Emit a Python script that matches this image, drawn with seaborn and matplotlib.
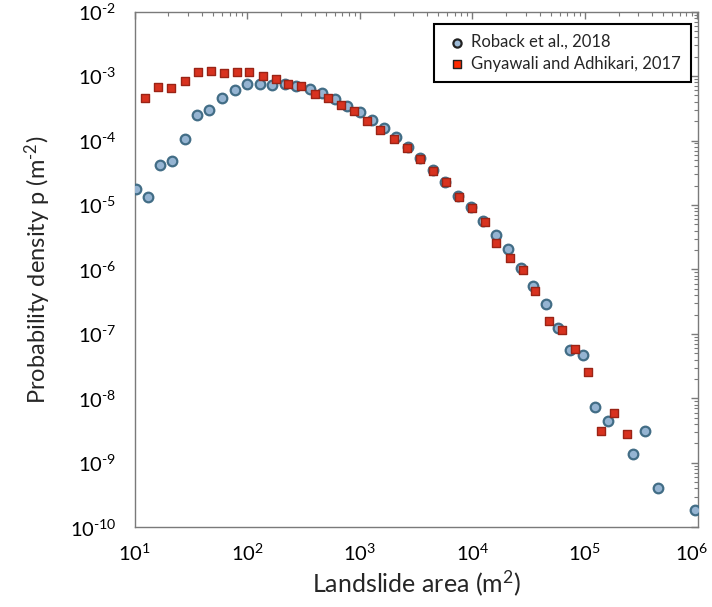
import numpy as np
import pandas as pd
import matplotlib
matplotlib.use("Agg")
import matplotlib.pyplot as plt
import matplotlib.transforms as mtransforms
import seaborn as sns
from matplotlib.ticker import LogLocator, FixedLocator, NullFormatter

# ---- data ----
roback_area = [10.2, 13.2, 16.9, 21.6, 28.2, 36.0, 46.0, 59.7, 78.3, 100, 129.6, 168,
               216, 274, 360, 463, 604, 771, 1000, 1285, 1650, 2117, 2694, 3443,
               4470, 5790, 7450, 9660, 12600, 16300, 20700, 27200, 35000, 45200,
               58000, 74500, 97200, 124200, 159600, 271000, 345000, 446000, 953000]
roback_p = [1.74e-5, 1.32e-5, 4.18e-5, 4.79e-5, 1.04e-4, 2.50e-4, 2.94e-4, 4.55e-4,
            6.10e-4, 7.65e-4, 7.52e-4, 7.20e-4, 7.65e-4, 7.07e-4, 6.35e-4, 5.51e-4,
            4.40e-4, 3.42e-4, 2.73e-4, 2.05e-4, 1.56e-4, 1.13e-4, 8.04e-5, 5.33e-5,
            3.47e-5, 2.28e-5, 1.37e-5, 9.25e-6, 5.67e-6, 3.40e-6, 2.04e-6, 1.06e-6,
            5.48e-7, 2.88e-7, 1.25e-7, 5.55e-8, 4.73e-8, 7.24e-9, 4.44e-9, 1.38e-9,
            3.10e-9, 4.10e-10, 1.87e-10]

gny_area = [12.5, 16.2, 21.2, 28.0, 36.3, 47.3, 62.1, 80.5, 104, 139, 182, 231, 304,
            401, 520, 682, 897, 1161, 1527, 2015, 2630, 3459, 4490, 5860, 7560, 9860,
            12900, 16400, 21700, 28100, 36500, 48500, 62400, 81700, 107700, 140000,
            182000, 237000]
gny_p = [4.52e-4, 6.75e-4, 6.56e-4, 8.51e-4, 1.146e-3, 1.18e-3, 1.10e-3, 1.14e-3,
         1.14e-3, 1.02e-3, 9.15e-4, 7.59e-4, 6.92e-4, 5.31e-4, 4.55e-4, 3.51e-4,
         2.86e-4, 1.98e-4, 1.47e-4, 1.06e-4, 7.70e-5, 5.14e-5, 3.41e-5, 2.26e-5,
         1.35e-5, 8.91e-6, 5.5e-6, 2.60e-6, 1.48e-6, 9.96e-7, 4.63e-7, 1.60e-7,
         1.17e-7, 5.91e-8, 2.61e-8, 3.10e-9, 6.0e-9, 2.78e-9]

series_labels = ["Roback et al., 2018", "Gnyawali and Adhikari, 2017"]
x_ticks = [1e1, 1e2, 1e3, 1e4, 1e5, 1e6]
x_exponents = ["1", "2", "3", "4", "5", "6"]
y_ticks = [1e-10, 1e-9, 1e-8, 1e-7, 1e-6, 1e-5, 1e-4, 1e-3, 1e-2]
y_exponents = ["10", "9", "8", "7", "6", "5", "4", "3", "2"]

sns.set_style("white")
plt.rcParams["font.family"] = ["Lato", "DejaVu Sans"]
plt.rcParams["mathtext.fontset"] = "custom"
plt.rcParams["mathtext.rm"] = "Lato"
plt.rcParams["mathtext.it"] = "Lato:italic"
plt.rcParams["mathtext.bf"] = "Lato:bold"

fig = plt.figure(figsize=(7.12, 6.07), dpi=100)
ax = fig.add_axes([0.189, 0.1313, 0.791, 0.8496])

df_r = pd.DataFrame({"area": roback_area, "p": roback_p})
df_g = pd.DataFrame({"area": gny_area, "p": gny_p})

sns.scatterplot(data=df_r, x="area", y="p", ax=ax, marker="o", s=48,
                color="#95b4d2", edgecolor="#426d86", linewidth=1.6,
                label=series_labels[0], zorder=3)
sns.scatterplot(data=df_g, x="area", y="p", ax=ax, marker="s", s=40,
                color="#d8321f", edgecolor="#9a2416", linewidth=1.0,
                label=series_labels[1], zorder=4)

ax.set_xscale("log")
ax.set_yscale("log")
ax.set_xlim(1e1, 1.01e6)
ax.set_ylim(1e-10, 1e-2)

ax.xaxis.set_major_locator(FixedLocator(x_ticks))
ax.set_xticklabels([r"$\mathregular{10^{%s}}$" % e for e in x_exponents])
ax.yaxis.set_major_locator(FixedLocator(y_ticks))
ax.set_yticklabels([r"$\mathregular{10^{\text{-}%s}}$" % e for e in y_exponents])
ax.xaxis.set_minor_locator(LogLocator(base=10, subs=np.arange(2, 10), numticks=20))
ax.yaxis.set_minor_locator(LogLocator(base=10, subs=np.arange(2, 10), numticks=20))
ax.xaxis.set_minor_formatter(NullFormatter())
ax.yaxis.set_minor_formatter(NullFormatter())

for s in ax.spines.values():
    s.set_color("#7a7a7a")
    s.set_linewidth(1.0)
ax.tick_params(which="both", direction="in", top=True, right=True,
               color="#7a7a7a", labelcolor="black")
ax.tick_params(axis="x", which="major", length=5, width=1.0, labelsize=14.5, pad=11)
ax.tick_params(axis="y", which="major", length=5, width=1.0, labelsize=14.5, pad=13)
ax.tick_params(which="minor", length=3, width=0.8)

# nudge the last x tick label so it stays inside the figure
last = ax.get_xticklabels()[-1]
last.set_transform(last.get_transform() +
                   mtransforms.ScaledTranslation(-6 / 100, 0, fig.dpi_scale_trans))

ax.set_xlabel("Landslide area (m$\\mathregular{^{2}}$)", fontsize=18, labelpad=3)
ax.set_ylabel("Probability density p (m$\\mathregular{^{\\text{-}2}}$)", fontsize=17, labelpad=12)

leg = ax.legend(loc="upper right", bbox_to_anchor=(0.9876, 0.976), borderaxespad=0,
                fontsize=12, frameon=True, fancybox=False, edgecolor="black",
                framealpha=1, handletextpad=0.1, borderpad=0.6, labelspacing=0.35,
                markerscale=0.85, handlelength=1.5)
leg.get_frame().set_linewidth(1.5)
h = leg.legend_handles
h[0].set_facecolor("#9dbad6"); h[0].set_edgecolor("#222222")
h[1].set_facecolor("#ff2a00"); h[1].set_edgecolor("#222222")

fig.savefig("out.png", dpi=100, facecolor="white")
